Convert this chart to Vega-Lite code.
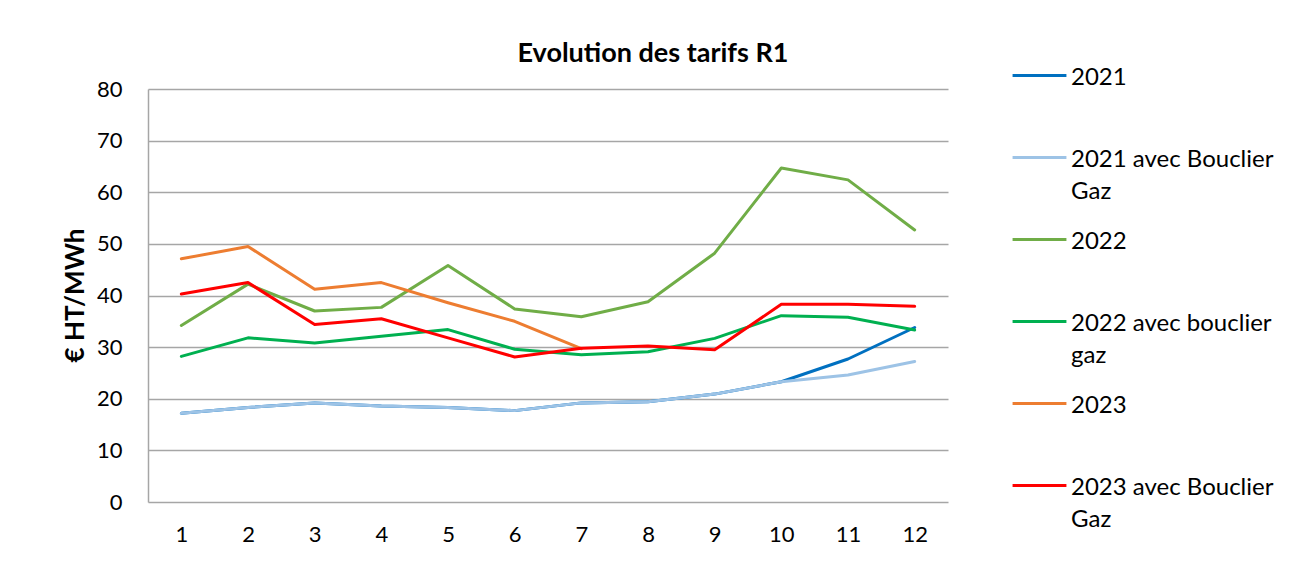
{
  "$schema": "https://vega.github.io/schema/vega-lite/v6.json",
  "autosize": {"type": "none"},
  "width": 800,
  "height": 413,
  "padding": {"left": 148, "top": 89, "right": 341, "bottom": 63},
  "background": "white",
  "title": {
    "text": "Evolution des tarifs R1",
    "font": "Lato",
    "fontSize": 27,
    "fontWeight": "bold",
    "color": "#000000",
    "anchor": "middle",
    "dx": 105,
    "dy": 47,
    "offset": 26
  },
  "data": {
    "values": [
      {"mois": 1, "serie": "2021", "valeur": 17.2},
      {"mois": 2, "serie": "2021", "valeur": 18.3},
      {"mois": 3, "serie": "2021", "valeur": 19.2},
      {"mois": 4, "serie": "2021", "valeur": 18.6},
      {"mois": 5, "serie": "2021", "valeur": 18.3},
      {"mois": 6, "serie": "2021", "valeur": 17.7},
      {"mois": 7, "serie": "2021", "valeur": 19.2},
      {"mois": 8, "serie": "2021", "valeur": 19.4},
      {"mois": 9, "serie": "2021", "valeur": 20.9},
      {"mois": 10, "serie": "2021", "valeur": 23.3},
      {"mois": 11, "serie": "2021", "valeur": 27.7},
      {"mois": 12, "serie": "2021", "valeur": 33.8},
      {"mois": 1, "serie": "2021 avec Bouclier Gaz", "valeur": 17.2},
      {"mois": 2, "serie": "2021 avec Bouclier Gaz", "valeur": 18.3},
      {"mois": 3, "serie": "2021 avec Bouclier Gaz", "valeur": 19.2},
      {"mois": 4, "serie": "2021 avec Bouclier Gaz", "valeur": 18.6},
      {"mois": 5, "serie": "2021 avec Bouclier Gaz", "valeur": 18.3},
      {"mois": 6, "serie": "2021 avec Bouclier Gaz", "valeur": 17.7},
      {"mois": 7, "serie": "2021 avec Bouclier Gaz", "valeur": 19.2},
      {"mois": 8, "serie": "2021 avec Bouclier Gaz", "valeur": 19.4},
      {"mois": 9, "serie": "2021 avec Bouclier Gaz", "valeur": 20.9},
      {"mois": 10, "serie": "2021 avec Bouclier Gaz", "valeur": 23.3},
      {"mois": 11, "serie": "2021 avec Bouclier Gaz", "valeur": 24.6},
      {"mois": 12, "serie": "2021 avec Bouclier Gaz", "valeur": 27.2},
      {"mois": 1, "serie": "2022", "valeur": 34.2},
      {"mois": 2, "serie": "2022", "valeur": 42.2},
      {"mois": 3, "serie": "2022", "valeur": 37.0},
      {"mois": 4, "serie": "2022", "valeur": 37.7},
      {"mois": 5, "serie": "2022", "valeur": 45.8},
      {"mois": 6, "serie": "2022", "valeur": 37.4},
      {"mois": 7, "serie": "2022", "valeur": 35.9},
      {"mois": 8, "serie": "2022", "valeur": 38.8},
      {"mois": 9, "serie": "2022", "valeur": 48.2},
      {"mois": 10, "serie": "2022", "valeur": 64.7},
      {"mois": 11, "serie": "2022", "valeur": 62.4},
      {"mois": 12, "serie": "2022", "valeur": 52.7},
      {"mois": 1, "serie": "2022 avec bouclier gaz", "valeur": 28.2},
      {"mois": 2, "serie": "2022 avec bouclier gaz", "valeur": 31.8},
      {"mois": 3, "serie": "2022 avec bouclier gaz", "valeur": 30.8},
      {"mois": 4, "serie": "2022 avec bouclier gaz", "valeur": 32.1},
      {"mois": 5, "serie": "2022 avec bouclier gaz", "valeur": 33.4},
      {"mois": 6, "serie": "2022 avec bouclier gaz", "valeur": 29.6},
      {"mois": 7, "serie": "2022 avec bouclier gaz", "valeur": 28.5},
      {"mois": 8, "serie": "2022 avec bouclier gaz", "valeur": 29.1},
      {"mois": 9, "serie": "2022 avec bouclier gaz", "valeur": 31.7},
      {"mois": 10, "serie": "2022 avec bouclier gaz", "valeur": 36.1},
      {"mois": 11, "serie": "2022 avec bouclier gaz", "valeur": 35.8},
      {"mois": 12, "serie": "2022 avec bouclier gaz", "valeur": 33.3},
      {"mois": 1, "serie": "2023", "valeur": 47.1},
      {"mois": 2, "serie": "2023", "valeur": 49.5},
      {"mois": 3, "serie": "2023", "valeur": 41.2},
      {"mois": 4, "serie": "2023", "valeur": 42.5},
      {"mois": 5, "serie": "2023", "valeur": 38.6},
      {"mois": 6, "serie": "2023", "valeur": 35.0},
      {"mois": 7, "serie": "2023", "valeur": 29.7},
      {"mois": 1, "serie": "2023 avec Bouclier Gaz", "valeur": 40.3},
      {"mois": 2, "serie": "2023 avec Bouclier Gaz", "valeur": 42.5},
      {"mois": 3, "serie": "2023 avec Bouclier Gaz", "valeur": 34.4},
      {"mois": 4, "serie": "2023 avec Bouclier Gaz", "valeur": 35.5},
      {"mois": 5, "serie": "2023 avec Bouclier Gaz", "valeur": 31.8},
      {"mois": 6, "serie": "2023 avec Bouclier Gaz", "valeur": 28.1},
      {"mois": 7, "serie": "2023 avec Bouclier Gaz", "valeur": 29.8},
      {"mois": 8, "serie": "2023 avec Bouclier Gaz", "valeur": 30.2},
      {"mois": 9, "serie": "2023 avec Bouclier Gaz", "valeur": 29.5},
      {"mois": 10, "serie": "2023 avec Bouclier Gaz", "valeur": 38.3},
      {"mois": 11, "serie": "2023 avec Bouclier Gaz", "valeur": 38.3},
      {"mois": 12, "serie": "2023 avec Bouclier Gaz", "valeur": 37.9}
    ]
  },
  "mark": {"type": "line", "strokeWidth": 3, "strokeJoin": "round", "strokeCap": "round"},
  "encoding": {
    "x": {
      "field": "mois",
      "type": "ordinal",
      "scale": {"type": "point", "padding": 0.5},
      "axis": {
        "title": null,
        "labelAngle": 0,
        "ticks": false,
        "tickSize": 0,
        "grid": false,
        "domain": false,
        "labelPadding": 22,
        "labelFont": "Lato",
        "labelFontSize": 22,
        "labelColor": "#000000"
      }
    },
    "y": {
      "field": "valeur",
      "type": "quantitative",
      "scale": {"domain": [0, 80], "nice": false},
      "axis": {
        "title": "€ HT/MWh",
        "titleFont": "Lato",
        "titleFontSize": 26,
        "titleFontWeight": "bold",
        "titleColor": "#000000",
        "titleAngle": 270,
        "titleX": -73,
        "titleY": 206,
        "titleAlign": "center",
        "titleBaseline": "middle",
        "values": [0, 10, 20, 30, 40, 50, 60, 70, 80],
        "ticks": false,
        "tickSize": 0,
        "labelPadding": 26,
        "labelFont": "Lato",
        "labelFontSize": 22,
        "labelColor": "#000000",
        "domain": true,
        "domainColor": "#a6a6a6",
        "domainWidth": 1.5,
        "grid": true,
        "gridColor": "#a6a6a6",
        "gridWidth": 1.5
      }
    },
    "color": {
      "field": "serie",
      "type": "nominal",
      "sort": ["2021", "2021 avec Bouclier Gaz", "2022", "2022 avec bouclier gaz", "2023", "2023 avec Bouclier Gaz"],
      "scale": {
        "domain": ["2021", "2021 avec Bouclier Gaz", "2022", "2022 avec bouclier gaz", "2023", "2023 avec Bouclier Gaz"],
        "range": ["#0070C0", "#9DC3E6", "#70AD47", "#00B050", "#ED7D31", "#FF0000"]
      },
      "legend": {
        "title": null,
        "orient": "none",
        "legendX": 863,
        "legendY": -42,
        "symbolType": "stroke",
        "symbolSize": 2900,
        "symbolStrokeWidth": 3,
        "labelFont": "Lato",
        "labelFontSize": 24,
        "labelColor": "#000000",
        "labelLimit": 400,
        "labelOffset": 3,
        "labelBaseline": "top",
        "rowPadding": 7,
        "labelExpr": "datum.label == '2021 avec Bouclier Gaz' ? ['2021 avec Bouclier', 'Gaz'] : datum.label == '2022 avec bouclier gaz' ? ['2022 avec bouclier', 'gaz'] : datum.label == '2023 avec Bouclier Gaz' ? ['2023 avec Bouclier', 'Gaz'] : [datum.label, '']",
        "encode": {"labels": {"update": {"dy": {"value": -10}, "lineHeight": {"value": 32}}}}
      }
    }
  },
  "config": {
    "view": {"stroke": null}
  }
}
